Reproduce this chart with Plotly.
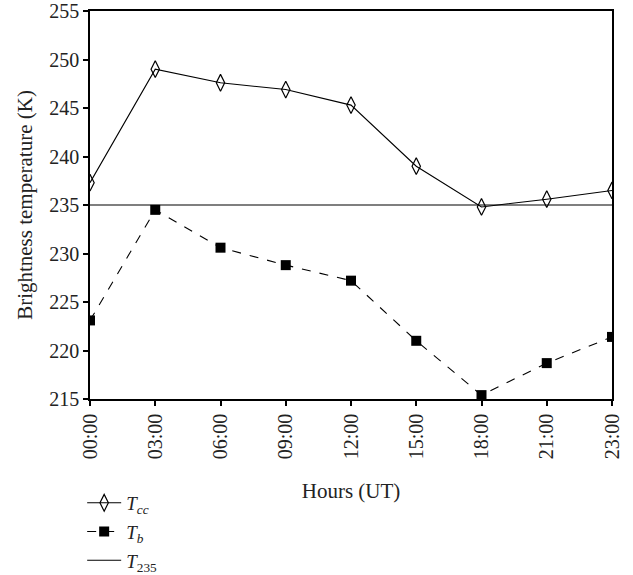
import plotly.graph_objects as go

hours = ["00:00", "03:00", "06:00", "09:00", "12:00", "15:00", "18:00", "21:00", "23:00"]
t_cc = [237.3, 249.0, 247.6, 246.9, 245.3, 239.0, 234.8, 235.6, 236.5]
t_b = [223.1, 234.5, 230.6, 228.8, 227.2, 221.0, 215.4, 218.7, 221.4]
t_threshold = 235
y_ticks = [215, 220, 225, 230, 235, 240, 245, 250, 255]

FONT = "Liberation Serif"
TXT = "#222"

fig = go.Figure()
fig.add_trace(go.Scatter(
    x=hours, y=t_cc, mode="lines+markers",
    name="<i>T<sub>cc</sub></i>", legendgroup="a",
    line=dict(color="black", width=1.1),
    marker=dict(symbol="diamond-tall-open", size=12, color="black", line=dict(width=1.2)),
))
fig.add_trace(go.Scatter(
    x=hours, y=t_b, mode="lines+markers",
    name="<i>T<sub>b</sub></i>", legendgroup="b",
    line=dict(color="black", width=1.1, dash="dash"),
    marker=dict(symbol="square", size=10, color="black"),
))
fig.add_trace(go.Scatter(
    x=hours, y=[t_threshold] * len(hours), mode="lines",
    name="<i>T</i><sub>235</sub>", legendgroup="c",
    line=dict(color="black", width=1.1),
))

fig.update_layout(
    width=633, height=575,
    margin=dict(l=90, r=21, t=11, b=176, autoexpand=False),
    paper_bgcolor="white", plot_bgcolor="white",
    font=dict(family=FONT, size=20, color=TXT),
    showlegend=True,
    legend=dict(
        x=-0.015, y=-0.219, xanchor="left", yanchor="top",
        orientation="v", bgcolor="rgba(0,0,0,0)",
        font=dict(family=FONT, size=19, color=TXT),
        itemwidth=34, tracegroupgap=1,
    ),
)
fig.update_xaxes(
    type="category", range=[0, 8],
    showline=True, linecolor="black", linewidth=1.5, mirror=True,
    ticks="outside", ticklen=5, tickcolor="black", tickwidth=1.5,
    tickangle=-90, showgrid=False, zeroline=False,
    tickfont=dict(family=FONT, size=20, color=TXT),
    title=dict(text="Hours (UT)", font=dict(family=FONT, size=21, color=TXT), standoff=25),
)
fig.update_yaxes(
    range=[215, 255], tickvals=y_ticks,
    showline=True, linecolor="black", linewidth=1.5, mirror=True,
    ticks="outside", ticklen=5, tickcolor="black", tickwidth=1.5,
    showgrid=False, zeroline=False, ticklabeloverflow="allow",
    tickfont=dict(family=FONT, size=20, color=TXT),
    title=dict(text="Brightness temperature (K)", font=dict(family=FONT, size=21, color=TXT), standoff=11),
)

# remove the browser's default 8px body margin so the figure fills the window
fig.write_html("out.html", config={"displayModeBar": False},
               post_script="document.body.style.margin='0';")
